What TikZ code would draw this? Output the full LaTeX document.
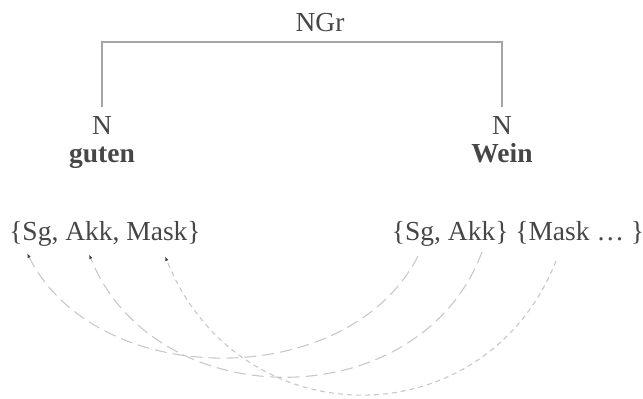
\documentclass[tikz,border=0pt]{standalone}
\usepackage{fontspec}
\setmainfont{Liberation Serif}
\usetikzlibrary{arrows.meta}
\definecolor{txt}{RGB}{70,70,70}
\definecolor{treeline}{RGB}{165,165,165}
\definecolor{arcgray}{RGB}{200,200,200}
\begin{document}
\begin{tikzpicture}[x=1pt,y=-1pt,
  lbl/.style={text=txt,inner sep=0pt,anchor=base,font=\fontsize{27.5}{32}\selectfont},
  blbl/.style={lbl,font=\fontsize{27.5}{32}\selectfont\bfseries},
  tree/.style={draw=treeline,line width=1.2pt},
  agr/.style={draw=arcgray,line width=1.1pt,dash pattern=on 12pt off 6pt,-{Latex[length=5pt,width=3.5pt,color=txt]}},
  agrs/.style={draw=arcgray,line width=1.1pt,dash pattern=on 5pt off 4pt,-{Latex[length=5pt,width=3.5pt,color=txt]}}]
\useasboundingbox (0,0) rectangle (643,399);
\node[lbl] (ngr) at (320,31) {NGr};
\node[lbl] (n1) at (102,134) {N};
\node[blbl] (guten) at (102,162) {guten};
\node[lbl] (n2) at (502,134) {N};
\node[blbl] (wein) at (502,162) {Wein};
\node[lbl] (set1) at (105,240) {\{Sg, Akk, Mask\}};
\node[lbl] (set2) at (518,240) {\{Sg, Akk\} \{Mask … \}};
\coordinate (top) at (102,42);
\coordinate (topr) at (502,42);
\coordinate (n1t) at (102,107);
\coordinate (n2t) at (502,107);
\draw[tree] (n1t) -- (top) -- (topr) -- (n2t);
\coordinate (s1) at (27,253);
\coordinate (s2) at (89,254);
\coordinate (s3) at (165,256);
\coordinate (e1) at (418,256);
\coordinate (e2) at (482,252);
\coordinate (e3) at (556,261);
\draw[agr] (e1) .. controls (349,392) and (97,392) .. (s1);
\draw[agr] (e2) .. controls (420,418) and (155,418) .. (s2);
\draw[agrs] (e3) .. controls (485,440) and (239,440) .. (s3);
\end{tikzpicture}
\end{document}
